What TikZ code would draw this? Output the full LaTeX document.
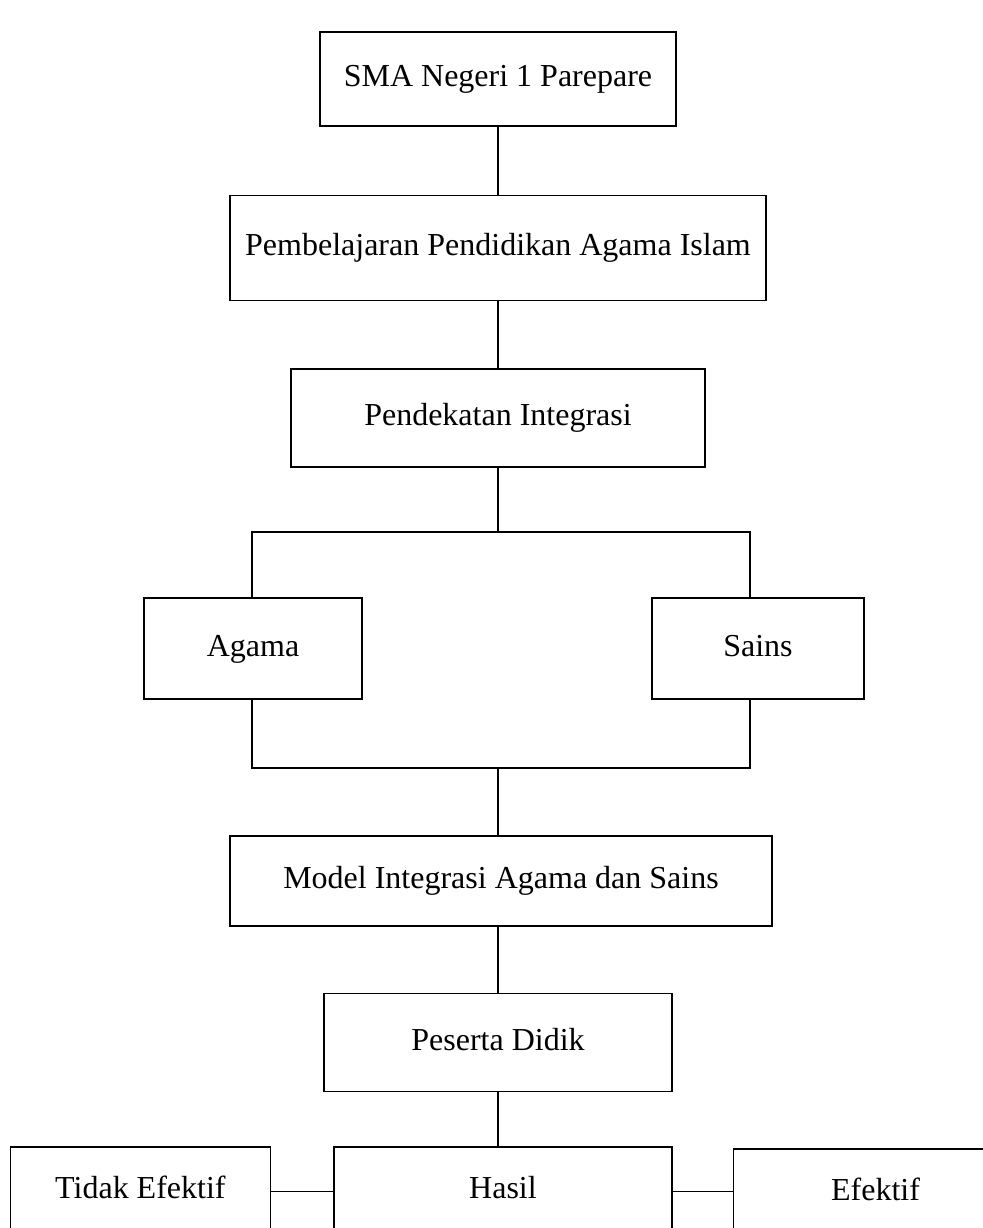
\documentclass[tikz,border=0pt]{standalone}
\usepackage{fontspec}
\setmainfont{Liberation Serif}
\usetikzlibrary{
  positioning,
}
\tikzset{
  kotak/.style={draw,rectangle,line width=0.8pt,inner sep=0pt,
    text height=11pt,text depth=3.5pt,
    font=\fontsize{16}{19}\selectfont},
  garis/.style={line width=0.7pt},
}

\begin{document}
\begin{tikzpicture}[x=0.5pt,y=-0.5pt]
      \useasboundingbox (0,0) rectangle (983,1228);

      \node[kotak,minimum width=178pt,minimum height=47pt] (sma) at (498,79) {SMA Negeri 1 Parepare};
      \node[kotak,minimum width=268pt,minimum height=52.5pt] (ppai) [below=34pt of sma] {Pembelajaran Pendidikan Agama Islam};
      \node[kotak,minimum width=207pt,minimum height=49pt] (pi) [below=33.5pt of ppai] {Pendekatan Integrasi};

      \node[kotak,minimum width=109pt,minimum height=50.5pt] (agama) at (253,648.5) {Agama};
      \node[kotak,minimum width=106pt,minimum height=50.5pt] (sains) at (758,648.5) {Sains};

      \node[kotak,minimum width=271pt,minimum height=45pt] (model) at (501,881) {Model Integrasi Agama dan Sains};
      \node[kotak,minimum width=174pt,minimum height=49pt] (peserta) [below=33pt of model, xshift=-1.5pt] {Peserta Didik};

      \node[kotak,minimum width=169pt,minimum height=44pt] (hasil) [below=27pt of peserta, xshift=2.5pt] {Hasil};
      \node[kotak,minimum width=130pt,minimum height=44pt] (tidak) [left=31pt of hasil] {Tidak Efektif};
      \node[kotak,minimum width=142pt,minimum height=44pt] (efektif) [right=30pt of hasil, yshift=-1pt] {Efektif};

      % kurung atas dan bawah
      \coordinate (kiriatas) at (252,532);
      \coordinate (kananatas) at (750,532);
      \coordinate (kiribawah) at (252,768);
      \coordinate (kananbawah) at (750,768);
      \coordinate (tengahbawah) at (498,768);

      \draw[garis] (sma) -- (ppai);
      \draw[garis] (ppai) -- (pi);
      \draw[garis] (pi.south) -- (pi.south |- kiriatas);
      \draw[garis] (kiriatas |- agama.north) -- (kiriatas) -- (kananatas) -- (kananatas |- sains.north);
      \draw[garis] (kiribawah |- agama.south) -- (kiribawah) -- (kananbawah) -- (kananbawah |- sains.south);
      \draw[garis] (tengahbawah) -- (tengahbawah |- model.north);
      \draw[garis] (model.south -| peserta.north) -- (peserta.north);
      \draw[garis] (peserta.south) -- (peserta.south |- hasil.north);
      \draw[garis] (tidak.east) -- (tidak.east -| hasil.west);
      \draw[garis] (hasil.east) -- (hasil.east -| efektif.west);
    \end{tikzpicture}
\end{document}
